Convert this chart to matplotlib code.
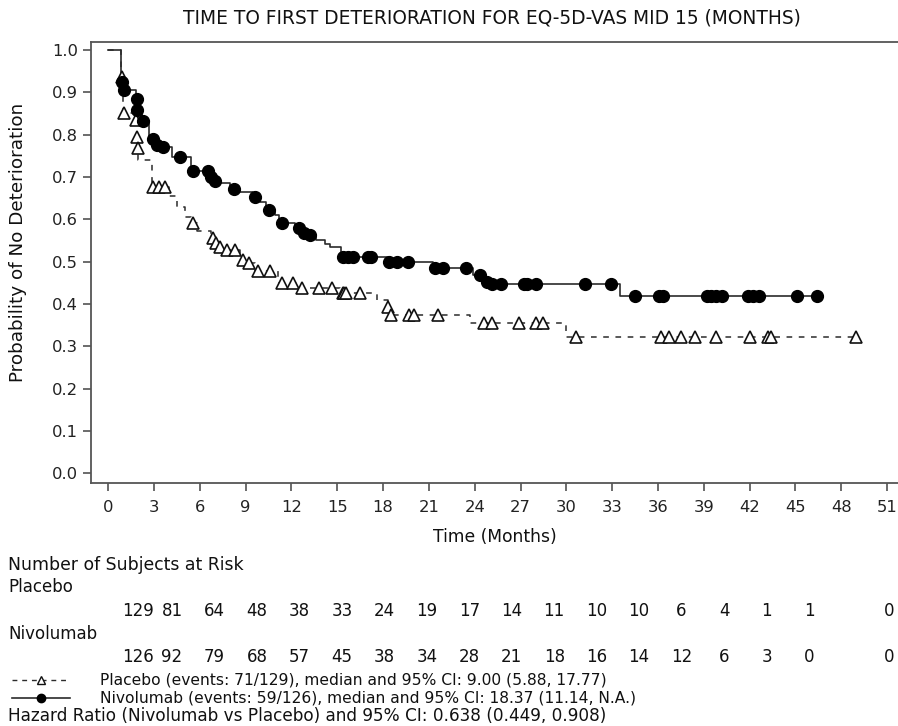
import numpy as np
import matplotlib
matplotlib.use("Agg")
import matplotlib.pyplot as plt
from matplotlib.lines import Line2D

# ---------------- data ----------------
month_ticks = list(range(0, 52, 3))
prob_ticks = [0.0, 0.1, 0.2, 0.3, 0.4, 0.5, 0.6, 0.7, 0.8, 0.9, 1.0]

# Placebo KM step function (time of drop, survival after drop)
pla_event_t = [0.85, 0.95, 1.8, 1.85, 1.9, 1.95, 2.85, 4.0, 4.5, 5.0, 5.4, 5.8,
               6.7, 7.0, 7.2, 7.6, 8.6, 9.0, 9.6, 11.1, 12.5, 15.2, 17.6, 18.3,
               18.45, 23.7, 30.0]
pla_surv = [0.937, 0.852, 0.835, 0.795, 0.768, 0.74, 0.677, 0.655, 0.63, 0.605,
            0.592, 0.573, 0.555, 0.543, 0.535, 0.527, 0.504, 0.497, 0.478, 0.449,
            0.437, 0.425, 0.41, 0.394, 0.374, 0.354, 0.323]
pla_cens_t = [0.9, 1.0, 1.82, 1.87, 1.92, 2.9, 3.3, 3.7, 5.55, 6.85, 7.07, 7.3,
              7.8, 8.3, 8.8, 9.2, 9.8, 10.6, 11.4, 12.1, 12.7, 13.8, 14.65, 15.35,
              15.45, 15.55, 16.5, 18.35, 18.5, 19.7, 20.0, 21.6, 24.6, 25.1, 26.9,
              28.0, 28.5, 30.6, 36.2, 36.75, 37.5, 38.4, 39.8, 42.0, 43.2, 43.4, 49.0]

# Nivolumab KM step function
niv_event_t = [0.85, 0.95, 1.83, 1.88, 2.2, 2.7, 3.1, 3.45, 4.2, 5.4, 6.6, 6.9,
               7.15, 8.0, 8.5, 9.5, 9.96, 10.3, 10.9, 11.2, 12.2, 12.7, 13.0, 13.6,
               14.2, 14.5, 15.25, 18.37, 21.3, 23.9, 24.6, 25.0, 33.5]
niv_surv = [0.925, 0.905, 0.885, 0.858, 0.832, 0.79, 0.776, 0.772, 0.748, 0.714,
            0.70, 0.69, 0.685, 0.671, 0.665, 0.653, 0.64, 0.622, 0.61, 0.592,
            0.58, 0.568, 0.562, 0.55, 0.542, 0.535, 0.512, 0.50, 0.484, 0.468,
            0.453, 0.447, 0.419]
niv_cens_t = [0.9, 1.0, 1.85, 1.9, 2.3, 2.9, 3.2, 3.6, 4.7, 5.55, 6.5, 6.75, 7.0,
              8.26, 9.63, 10.5, 11.4, 12.5, 12.85, 13.2, 15.4, 15.7, 16.0, 17.0,
              17.2, 18.4, 18.9, 19.6, 21.4, 21.9, 23.4, 24.35, 24.8, 25.1, 25.7,
              27.2, 27.4, 28.0, 31.2, 32.9, 34.5, 36.1, 36.3, 39.2, 39.5, 39.8,
              40.2, 41.9, 42.2, 42.6, 45.1, 46.4]

risk_placebo = [129, 81, 64, 48, 38, 33, 24, 19, 17, 14, 11, 10, 10, 6, 4, 1, 1, 0]
risk_nivo = [126, 92, 79, 68, 57, 45, 38, 34, 28, 21, 18, 16, 14, 12, 6, 3, 0, 0]

title = "TIME TO FIRST DETERIORATION FOR EQ-5D-VAS MID 15 (MONTHS)"
leg_placebo = "Placebo (events: 71/129), median and 95% CI: 9.00 (5.88, 17.77)"
leg_nivo = "Nivolumab (events: 59/126), median and 95% CI: 18.37 (11.14, N.A.)"
hr_text = "Hazard Ratio (Nivolumab vs Placebo) and 95% CI: 0.638 (0.449, 0.908)"

# ---------------- figure ----------------
W, H = 898, 726
fig = plt.figure(figsize=(W / 100, H / 100), dpi=100)

def fx(px):
    return px / W

def fy(py):
    return 1 - py / H

TXT = "DejaVu Sans"
FS = 12
TC = "#111111"
ax = fig.add_axes([fx(91), fy(483), fx(898) - fx(91), fy(42) - fy(483)])

def km_xy(ev_t, surv, end_t):
    x = np.concatenate([[0.0], ev_t, [end_t]])
    y = np.concatenate([[1.0], surv, [surv[-1]]])
    return x, y

def surv_at(ev_t, surv, t):
    ev_t = np.asarray(ev_t)
    levels = np.concatenate([[1.0], surv])
    idx = np.searchsorted(ev_t, t, side="right")
    return levels[idx]

line_col = "#2b2b2b"
# Placebo
px_, py_ = km_xy(pla_event_t, pla_surv, max(pla_cens_t))
ax.step(px_, py_, where="post", color=line_col, lw=1.1, linestyle=(0, (3.7, 4.3)))
ax.plot(pla_cens_t, surv_at(pla_event_t, pla_surv, pla_cens_t), linestyle="none",
        marker="^", ms=8.5, mfc="white", mec="#111111", mew=1.2, zorder=3)
# Nivolumab
nx_, ny_ = km_xy(niv_event_t, niv_surv, max(niv_cens_t))
ax.step(nx_, ny_, where="post", color=line_col, lw=1.2)
ax.plot(niv_cens_t, surv_at(niv_event_t, niv_surv, niv_cens_t), linestyle="none",
        marker="o", ms=8.5, mfc="black", mec="black", zorder=4)

ax.set_xlim(-1.13, 51.72)
ax.set_ylim(-0.023, 1.019)
ax.set_xticks(month_ticks)
ax.set_yticks(prob_ticks)
ax.set_yticklabels([f"{v:.1f}" for v in prob_ticks])
ax.tick_params(axis="both", direction="out", length=6, width=1.1, color="#444444",
               labelsize=11.8, labelcolor="#222222")
for lab in ax.get_xticklabels() + ax.get_yticklabels():
    lab.set_family(TXT)
ax.tick_params(axis="x", pad=6)
ax.tick_params(axis="y", pad=3.5)
for s in ["left", "bottom", "top"]:
    ax.spines[s].set_color("#555555")
    ax.spines[s].set_linewidth(1.3)
ax.spines["right"].set_visible(False)

fig.text(fx(492), fy(18), title, ha="center", va="center", fontsize=13.4,
         family=TXT, color=TC)
fig.text(fx(18), fy(242), "Probability of No Deterioration", rotation=90,
         ha="center", va="center", fontsize=13.2, family=TXT, color=TC)
fig.text(fx(495), fy(537), "Time (Months)", ha="center", va="center",
         fontsize=12.3, family=TXT, color=TC)

# at-risk table
fig.text(fx(8), fy(565), "Number of Subjects at Risk", ha="left", va="center",
         fontsize=12.4, family=TXT, color=TC)
fig.text(fx(8), fy(587), "Placebo", ha="left", va="center", fontsize=FS,
         family=TXT, color=TC)
fig.text(fx(8), fy(634), "Nivolumab", ha="left", va="center", fontsize=FS,
         family=TXT, color=TC)
col_x = [138] + list(np.linspace(172, 809, 16)) + [889]
for i, (a, b) in enumerate(zip(risk_placebo, risk_nivo)):
    fig.text(fx(col_x[i]), fy(611), str(a), ha="center", va="center",
             fontsize=FS, family=TXT, color=TC)
    fig.text(fx(col_x[i]), fy(657), str(b), ha="center", va="center",
             fontsize=FS, family=TXT, color=TC)

# legend
fig.add_artist(Line2D([fx(12), fx(70)], [fy(680), fy(680)], color=line_col, lw=1.0,
                      linestyle=(0, (3.5, 3.5))))
fig.add_artist(Line2D([fx(41)], [fy(680)], marker="^", ms=6, mfc="white",
                      mec="#111111", mew=1.0, linestyle="none"))
fig.add_artist(Line2D([fx(12), fx(70)], [fy(698), fy(698)], color=line_col, lw=1.2))
fig.add_artist(Line2D([fx(41)], [fy(698)], marker="o", ms=6, mfc="black",
                      mec="black", linestyle="none"))
fig.text(fx(100), fy(680), leg_placebo, ha="left", va="center", fontsize=11.2,
         family=TXT, color=TC)
fig.text(fx(100), fy(698), leg_nivo, ha="left", va="center", fontsize=11.2,
         family=TXT, color=TC)
fig.text(fx(8), fy(716), hr_text, ha="left", va="center", fontsize=12.2,
         family=TXT, color=TC)

fig.savefig("out.png", dpi=100)
